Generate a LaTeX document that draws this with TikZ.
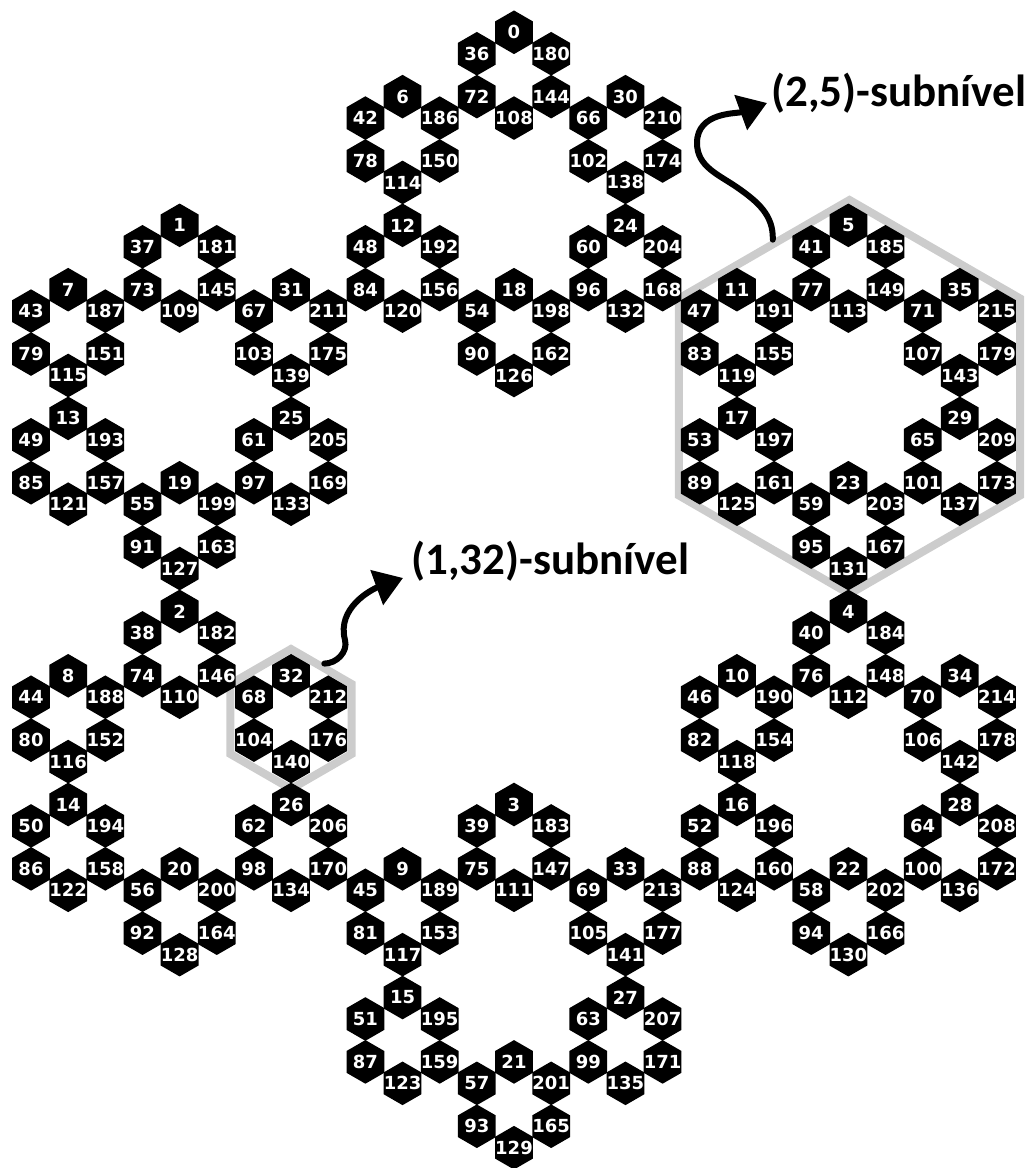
\documentclass[tikz,border=0pt]{standalone}
\usepackage{fontspec}
\newfontfamily\numfont{DejaVu Sans}
\newfontfamily\labfont{Carlito}
\usetikzlibrary{shapes.geometric,arrows.meta}
\def\hexR{21.45pt}
\begin{document}
\begin{tikzpicture}[x=1pt,y=1pt,
  hex/.style={regular polygon, regular polygon sides=6, shape border rotate=30,
    minimum size=43.6pt, inner sep=0pt, outer sep=0pt, fill=black, draw=none,
    label={[text=white, inner sep=0pt, font=\numfont\bfseries\fontsize{18}{18}\selectfont]center:#1}},
  grayhex/.style={regular polygon, regular polygon sides=6, shape border rotate=30,
    inner sep=0pt, draw=gray!40, line width=8pt},
  arr/.style={line width=6pt, line cap=round, -{Triangle[length=28pt,width=36pt]}},
  lab/.style={font=\labfont\bfseries\fontsize{45}{45}\selectfont, inner sep=0pt, text=black}]
\useasboundingbox (0,0) rectangle (1032,1168);
\coordinate (C) at (514,578);
% highlighted sub-levels
\node[grayhex, minimum size=394pt] (sub25) at (849.5,771) {};
\node[grayhex, minimum size=140pt] (sub132) at (291,449) {};
% hexagons: label = g + 6r + 36h
\foreach \gi in {0,...,5}{
  \foreach \ri in {0,...,5}{
    \foreach \hi in {0,...,5}{
      \pgfmathtruncatemacro{\lbl}{\gi+6*\ri+36*\hi}
      \path (C) ++(90+60*\gi:{18*\hexR}) ++(90+60*\ri:{6*\hexR}) ++(90+60*\hi:{2*\hexR})
        node[hex=\lbl] (h\lbl) {};
    }
  }
}
% labels
\node[lab, anchor=base west] (t25) at (771,1061) {(2,5)-subnível};
\node[lab, anchor=base west] (t132) at (411,593) {(1,32)-subnível};
% arrows
\coordinate (a1e) at (767,1065);
\coordinate (a2e) at (403,590);
\draw[arr] (sub25.116) to[out=88,in=-35] (738,980) to[out=145,in=-90] (697,1025) to[out=90,in=200] (a1e);
\draw[arr] (sub132.59) to[out=0,in=-75] (345,528) to[out=105,in=200] (a2e);
\end{tikzpicture}
\end{document}
